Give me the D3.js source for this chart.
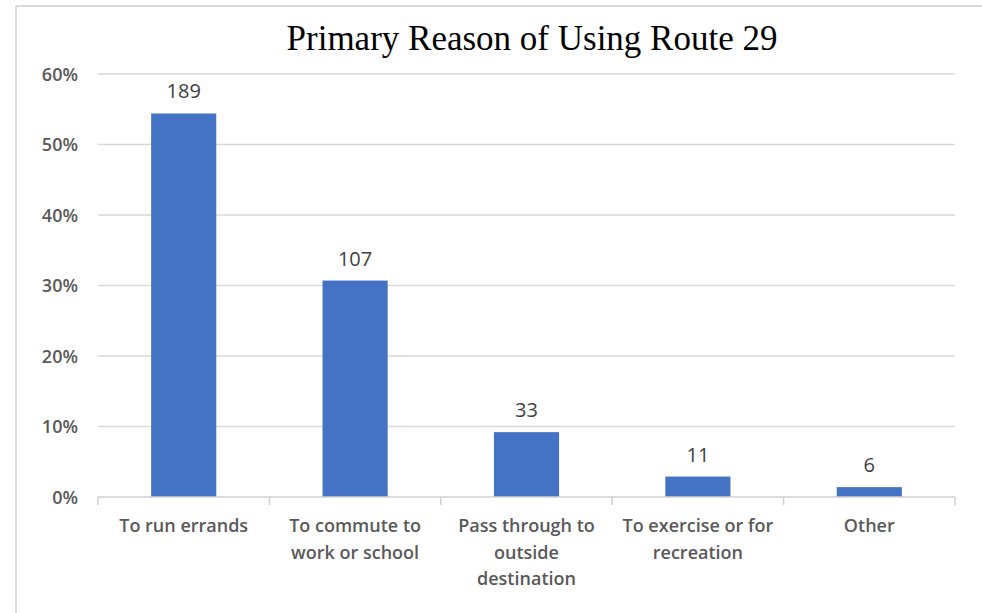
<!DOCTYPE html>
<html>
<head>
<meta charset="utf-8">
<script src="https://cdn.jsdelivr.net/npm/d3@7/dist/d3.min.js"></script>
<style>
  html, body { margin: 0; padding: 0; background: #ffffff; }
  svg { display: block; }
</style>
</head>
<body>
<svg id="chart" width="982" height="613"></svg>
<script>
const title = "Primary Reason of Using Route 29";
const categories = [
  ["To run errands"],
  ["To commute to", "work or school"],
  ["Pass through to", "outside", "destination"],
  ["To exercise or for", "recreation"],
  ["Other"]
];
const counts = [189, 107, 33, 11, 6];
const percents = [0.544, 0.307, 0.092, 0.029, 0.014];
const yTicks = [0, 0.1, 0.2, 0.3, 0.4, 0.5, 0.6];

const svg = d3.select("#chart");
const W = 982, H = 613;
const m = { left: 98, right: 27, top: 74, bottom: 116 };
const plotW = W - m.left - m.right;
const plotH = H - m.top - m.bottom;

// outer frame (top and left edges visible)
svg.append("line").attr("x1", 16).attr("x2", W).attr("y1", 6).attr("y2", 6)
  .attr("stroke", "#d9d9d9").attr("stroke-width", 2);
svg.append("line").attr("x1", 16).attr("x2", 16).attr("y1", 6).attr("y2", H)
  .attr("stroke", "#d9d9d9").attr("stroke-width", 2);

const idx = categories.map((c, i) => i);
const x = d3.scaleBand().domain(idx).range([0, plotW]).paddingInner(0.62).paddingOuter(0.31);
const xb = d3.scaleBand().domain(idx).range([0, plotW]);
const y = d3.scaleLinear().domain([0, 0.6]).range([plotH, 0]);

const g = svg.append("g").attr("transform", `translate(${m.left},${m.top})`);

// gridlines
g.append("g").selectAll("line").data(yTicks.filter(t => t > 0)).join("line")
  .attr("x1", 0).attr("x2", plotW)
  .attr("y1", d => y(d)).attr("y2", d => y(d))
  .attr("stroke", "#d9d9d9").attr("stroke-width", 1.5);

// y axis labels
const yAxis = d3.axisLeft(y).tickValues(yTicks).tickFormat(d3.format(".0%")).tickSize(0).tickPadding(20);
const ya = g.append("g").call(yAxis);
ya.select(".domain").remove();
ya.selectAll("text")
  .attr("font-family", "'Open Sans', sans-serif").attr("font-size", 18).attr("font-weight", 600)
  .attr("fill", "#595959").attr("dy", "0.36em");

// bars
g.selectAll("rect.bar").data(idx).join("rect").attr("class", "bar")
  .attr("x", i => x(i)).attr("width", x.bandwidth())
  .attr("y", i => y(percents[i])).attr("height", i => plotH - y(percents[i]))
  .attr("fill", "#4472C4");

// data labels
g.selectAll("text.val").data(idx).join("text").attr("class", "val")
  .attr("x", i => x(i) + x.bandwidth() / 2)
  .attr("y", i => y(percents[i]) - 15)
  .attr("text-anchor", "middle")
  .attr("font-family", "'Open Sans', sans-serif").attr("font-size", 20)
  .attr("fill", "#404040")
  .text(i => counts[i]);

// x axis baseline and ticks
const xAxisG = g.append("g").attr("transform", `translate(0,${plotH})`);
xAxisG.append("line").attr("x1", 0).attr("x2", plotW).attr("y1", 0).attr("y2", 0)
  .attr("stroke", "#d0d0d0").attr("stroke-width", 1.5);
const bounds = idx.map(i => xb(i)).concat([plotW]);
xAxisG.selectAll("line.tk").data(bounds).join("line").attr("class", "tk")
  .attr("x1", d => d).attr("x2", d => d).attr("y1", 0).attr("y2", 8)
  .attr("stroke", "#d0d0d0").attr("stroke-width", 1.5);

// category labels
const cl = xAxisG.selectAll("text.cat").data(idx).join("text").attr("class", "cat")
  .attr("text-anchor", "middle")
  .attr("font-family", "'Open Sans', sans-serif").attr("font-size", 18).attr("font-weight", 600)
  .attr("fill", "#595959");
cl.each(function(i) {
  const t = d3.select(this);
  categories[i].forEach((line, k) => {
    t.append("tspan").attr("x", xb(i) + xb.bandwidth() / 2).attr("y", 35 + k * 26.6).text(line);
  });
});

// title
svg.append("text").attr("x", 532).attr("y", 50).attr("text-anchor", "middle")
  .attr("font-family", "'Liberation Serif', 'Times New Roman', serif").attr("font-size", 35)
  .attr("fill", "#000000").text(title);
</script>
</body>
</html>
